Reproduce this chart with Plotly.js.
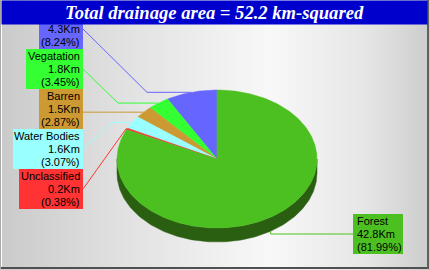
<!DOCTYPE html>
<html><head><meta charset="utf-8">
<script src="https://cdn.plot.ly/plotly-3.0.1.min.js"></script>
<style>
html,body{margin:0;padding:0;background:#fff;}
#chart{width:430px;height:270px;background:linear-gradient(to right,#cacaca 0%,#e2e2e2 30%,#f8f8f8 63%,#e6e6e6 85%,#cccccc 100%);}
</style></head><body><div id="chart"></div>
<script>
// ---- data ----
const categories = ['Urban', 'Vegatation', 'Barren', 'Water Bodies', 'Unclassified', 'Forest'];
const values = [4.3, 1.8, 1.5, 1.6, 0.2, 42.8];
const unit = 'Km';
const titleText = 'Total drainage area = 52.2 km-squared';

// ---- styles ----
const colors = ['#6666ff', '#33ff33', '#cc9933', '#99ffff', '#ff3333', '#4dc021'];
const sideColors = ['#33337f', '#1a7f1a', '#664c19', '#4c7f7f', '#7f1919', '#2a5e10'];

// ---- geometry (layout, px) ----
const CX = 217, CY = 159, RX = 100, RY = 69, DEPTH = 14;
const TITLE_BOTTOM = 24;
const boxes = [
  {x0: 39, x1: 83, y0: 9, align: 'right', kneeX: 147},
  {x0: 26, x1: 83, y0: 49, align: 'right', kneeX: 118},
  {x0: 39, x1: 83, y0: 89, align: 'right', kneeX: null},
  {x0: 13, x1: 83, y0: 129, align: 'right', kneeX: 112},
  {x0: 19, x1: 83, y0: 169, align: 'right', kneeX: 126},
  {x0: 353, x1: 403, y0: 214, align: 'left', kneeX: null}
];
const BOX_H = 40, LINE_H = 13;

const total = values.reduce((a, b) => a + b, 0);
function pt(deg, dy) {
  const r = deg * Math.PI / 180;
  return [CX + RX * Math.cos(r), CY - RY * Math.sin(r) + (dy || 0)];
}
function arc(a0, a1, dy) {
  const n = Math.max(2, Math.ceil(Math.abs(a1 - a0)));
  const out = [];
  for (let i = 0; i <= n; i++) out.push(pt(a0 + (a1 - a0) * i / n, dy));
  return out;
}

const traces = [];
const slices = [];
let acc = 90;
values.forEach((v, i) => {
  const a0 = acc, a1 = acc + v / total * 360;
  slices.push({a0, a1});
  acc = a1;
});

// side walls (front half only)
slices.forEach((s, i) => {
  const lo = Math.max(s.a0, 180), hi = Math.min(s.a1, 360);
  if (lo < hi) {
    const top = arc(lo, hi, 0), bot = arc(hi, lo, DEPTH);
    const p = top.concat(bot);
    p.push(top[0]);
    traces.push({type: 'scatter', mode: 'lines', x: p.map(q => q[0]), y: p.map(q => q[1]),
      fill: 'toself', fillcolor: sideColors[i], line: {color: sideColors[i], width: 0.5},
      hoverinfo: 'skip', showlegend: false});
  }
});
// top faces
slices.forEach((s, i) => {
  const p = [[CX, CY]].concat(arc(s.a0, s.a1, 0));
  p.push([CX, CY]);
  traces.push({type: 'scatter', mode: 'lines', x: p.map(q => q[0]), y: p.map(q => q[1]),
    fill: 'toself', fillcolor: colors[i], line: {color: colors[i], width: 0.5},
    hoverinfo: 'skip', showlegend: false});
});

// leader lines
slices.forEach((s, i) => {
  const mid = (s.a0 + s.a1) / 2;
  const m = ((mid % 360) + 360) % 360;
  const anchor = pt(mid, (m > 180 && m < 360) ? DEPTH : 0);
  const b = boxes[i];
  const midY = b.y0 + 7 + LINE_H;
  let p;
  if (b.align === 'right') {
    p = [anchor];
    if (b.kneeX !== null) p.push([b.kneeX, anchor[1]]);
    p.push([b.x1, b.kneeX !== null ? midY : anchor[1]]);
  } else {
    p = [anchor, [anchor[0], midY], [b.x0, midY]];
  }
  traces.push({type: 'scatter', mode: 'lines', x: p.map(q => q[0]), y: p.map(q => q[1]),
    line: {color: colors[i], width: 1}, hoverinfo: 'skip', showlegend: false});
});

const shapes = [];
const annotations = [];
boxes.forEach((b, i) => {
  shapes.push({type: 'rect', xref: 'x', yref: 'y', x0: b.x0, x1: b.x1, y0: b.y0, y1: b.y0 + BOX_H,
    fillcolor: colors[i], line: {width: 0}, layer: 'above'});
  const lines = [categories[i], values[i].toFixed(1) + unit, '(' + (values[i] / total * 100).toFixed(2) + '%)'];
  lines.forEach((t, k) => {
    const yy = b.y0 + 7 + LINE_H * k;
    if (yy < TITLE_BOTTOM) return; // this line sits under the title bar, as in the reference
    annotations.push({xref: 'x', yref: 'y', showarrow: false, text: t,
      x: b.align === 'right' ? b.x1 - 2.5 : b.x0 + 3,
      xanchor: b.align === 'right' ? 'right' : 'left',
      y: yy, yanchor: 'middle', borderpad: 0,
      font: {family: 'Liberation Sans, Arial, sans-serif', size: 11, color: '#000'}});
  });
});
// frame
shapes.push({type: 'rect', xref: 'x', yref: 'y', x0: 0, x1: 429, y0: 267, y1: 269, fillcolor: '#505050', line: {width: 0}, layer: 'above'});
shapes.push({type: 'rect', xref: 'x', yref: 'y', x0: 427, x1: 429, y0: 0, y1: 269, fillcolor: '#606060', line: {width: 0}, layer: 'above'});
shapes.push({type: 'rect', xref: 'x', yref: 'y', x0: 0, x1: 1, y0: 0, y1: 269, fillcolor: '#a8a8a8', line: {width: 0}, layer: 'above'});
shapes.push({type: 'rect', xref: 'x', yref: 'y', x0: 1, x1: 2, y0: 0, y1: 267, fillcolor: '#ffffff', line: {width: 0}, layer: 'above'});
// title bar (annotation drawn last so it covers the label box top)
annotations.push({xref: 'x', yref: 'y', showarrow: false,
  text: '<b><i>' + titleText + '</i></b>',
  x: 214.5, y: 12.5, xanchor: 'center', yanchor: 'middle',
  width: 425, height: 23, borderpad: 0, bgcolor: '#0000cc',
  font: {family: 'Liberation Serif, Times New Roman, serif', size: 18.6, color: '#ffffff'}});

const layout = {
  width: 430, height: 270,
  margin: {l: 0, r: 0, t: 0, b: 0},
  paper_bgcolor: 'rgba(0,0,0,0)', plot_bgcolor: 'rgba(0,0,0,0)',
  xaxis: {range: [0, 430], visible: false, fixedrange: true},
  yaxis: {range: [270, 0], visible: false, fixedrange: true},
  showlegend: false,
  shapes: shapes,
  annotations: annotations
};
Plotly.newPlot('chart', traces, layout, {displayModeBar: false, staticPlot: true});
</script></body></html>
